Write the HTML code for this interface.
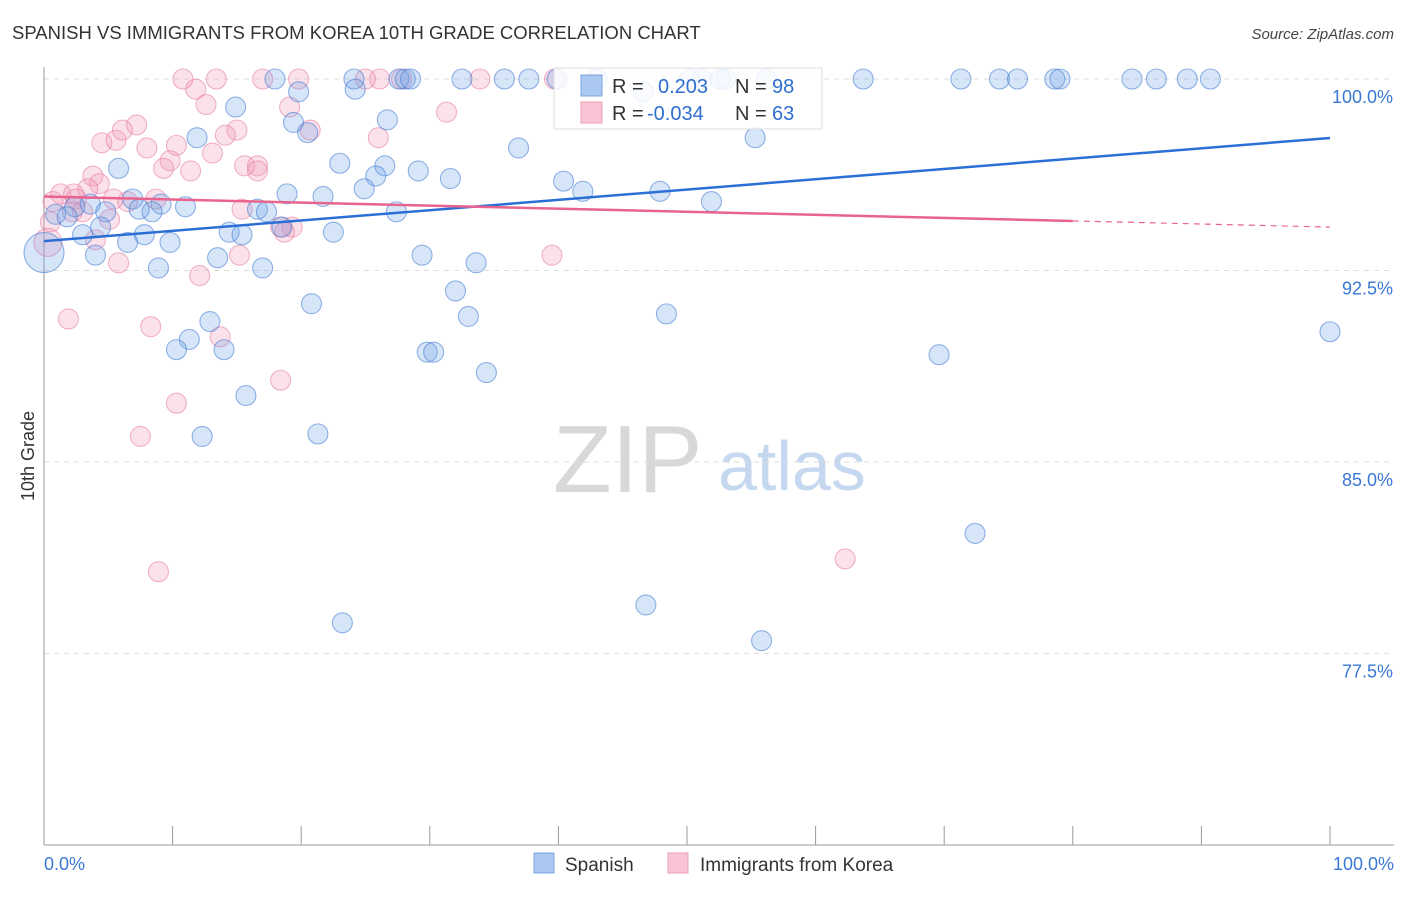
<!DOCTYPE html>
<html><head><meta charset="utf-8">
<style>
body{margin:0;background:#fff;font-family:"Liberation Sans",sans-serif;}
svg text{font-family:"Liberation Sans",sans-serif;}
</style></head>
<body>
<svg id="chart" width="1406" height="892" viewBox="0 0 1406 892" xmlns="http://www.w3.org/2000/svg">
<text x="12" y="39" font-size="18.5" fill="#333">SPANISH VS IMMIGRANTS FROM KOREA 10TH GRADE CORRELATION CHART</text>
<text x="1394" y="39" font-size="15" fill="#444" font-style="italic" text-anchor="end">Source: ZipAtlas.com</text>
<g>
<text x="553" y="492" font-size="96" fill="#d8d8d8" font-family="Liberation Serif, serif">ZIP</text>
<text x="718" y="490" font-size="70" fill="#c5d8f0">atlas</text>
</g>
<g id="grid"></g>
<g id="axes"></g>
<g id="pts"></g>
<g id="trends"></g>
<text transform="translate(34,456) rotate(-90)" font-size="18" fill="#333" text-anchor="middle">10th Grade</text>
<g>
<rect x="554" y="68" width="268" height="61" fill="rgba(255,255,255,0.85)" stroke="#ddd"/>
<rect x="581" y="75" width="21" height="21" fill="#aac8f0" stroke="#7aa6e0"/>
<rect x="581" y="102" width="21" height="21" fill="#f8c4d4" stroke="#eda0b8"/>
<text x="612" y="93" font-size="20" fill="#333">R =</text>
<text x="658" y="93" font-size="20" fill="#2f6fd0">0.203</text>
<text x="735" y="93" font-size="20" fill="#333">N =</text>
<text x="772" y="93" font-size="20" fill="#2f6fd0">98</text>
<text x="612" y="120" font-size="20" fill="#333">R =</text>
<text x="647" y="120" font-size="20" fill="#2f6fd0">-0.034</text>
<text x="735" y="120" font-size="20" fill="#333">N =</text>
<text x="772" y="120" font-size="20" fill="#2f6fd0">63</text>
</g>
<g>
<rect x="534" y="853" width="20" height="20" fill="#aac8f0" stroke="#7aa6e0"/>
<text x="565" y="871" font-size="19" fill="#333">Spanish</text>
</g>
<g>
<rect x="668" y="853" width="20" height="20" fill="#f8c4d4" stroke="#eda0b8"/>
<text x="700" y="871" font-size="19" fill="#333">Immigrants from Korea</text>
</g>
</svg>
<script>
const yTicks=[100,92.5,85,77.5];
const yTickLabels=["100.0%","92.5%","85.0%","77.5%"];
const xTickLabels=["0.0%","100.0%"];
const blueX=[17.96,24.1,27.6,28.1,28.5,32.5,35.8,37.7,39.9,43.0,50.2,51.2,52.6,53.0,56.2,63.7,71.3,74.3,75.7,78.6,79.0,84.6,86.5,88.9,90.7,
14.9,19.8,24.2,46.6,19.4,20.5,11.9,5.8,23.0,26.7,26.5,25.8,24.9,29.1,31.6,36.9,40.4,41.9,47.9,51.9,55.3,6.9,9.1,11.0,8.4,7.4,4.8,3.6,2.4,0.9,1.8,4.4,3.0,7.8,9.8,6.5,14.4,15.4,16.6,17.3,18.9,21.7,27.4,18.5,22.5,4.0,8.9,13.5,17.0,29.4,33.6,32.0,33.0,20.8,12.9,11.3,10.3,14.0,29.8,30.3,34.4,48.4,69.6,100,15.7,12.3,21.3,72.4,46.8,23.2,55.8,0];
const blueY=[100,100,100,100,100,100,100,100,100,100,100,100,100,100,100,100,100,100,100,100,100,100,100,100,100,
98.9,99.5,99.6,99.5,98.3,97.9,97.7,96.5,96.7,98.4,96.6,96.2,95.7,96.4,96.1,97.3,96.0,95.6,95.6,95.2,97.7,95.3,95.1,95.0,94.8,94.9,94.8,95.1,95.0,94.7,94.6,94.2,93.9,93.9,93.6,93.6,94.0,93.9,94.9,94.8,95.5,95.4,94.8,94.2,94.0,93.1,92.6,93.0,92.6,93.1,92.8,91.7,90.7,91.2,90.5,89.8,89.4,89.4,89.3,89.3,88.5,90.8,89.2,90.1,87.6,86.0,86.1,82.2,79.4,78.7,78.0,93.2];
const pinkX=[10.8,13.4,17.0,19.8,25.0,26.1,27.8,33.9,39.7,
11.8,12.6,19.1,31.3,15.0,14.1,10.3,13.1,4.5,5.6,6.1,7.2,8.0,9.8,11.4,9.3,15.6,16.6,16.6,20.7,26.0,3.8,4.3,3.4,1.3,2.3,2.5,0.7,6.5,5.4,8.7,15.4,2.2,3.0,5.1,0.5,4.0,18.4,19.3,18.7,5.8,12.1,39.5,15.2,1.9,8.3,13.7,18.4,10.3,7.5,8.9,62.3,0.3];
const pinkY=[100,100,100,100,100,100,100,100,100,
99.6,99.0,98.9,98.7,98.0,97.8,97.4,97.1,97.5,97.6,98.0,98.2,97.3,96.8,96.4,96.5,96.6,96.6,96.4,98.0,97.7,96.2,95.9,95.7,95.5,95.5,95.3,95.2,95.2,95.3,95.3,94.9,94.8,94.8,94.5,94.4,93.7,94.2,94.2,94.0,92.8,92.3,93.1,93.1,90.6,90.3,89.9,88.2,87.3,86.0,80.7,81.2,93.6];
const blueTrend=[93.65,97.69];
const pinkTrend=[95.4,94.2];
const pinkSolidEnd=80;

const NS="http://www.w3.org/2000/svg";
function xs(v){return 44+v*12.86;}
function ys(v){return 79+(100-v)*25.53;}
function mk(tag,at,parent){const e=document.createElementNS(NS,tag);for(const k in at)e.setAttribute(k,at[k]);parent.appendChild(e);return e;}
const grid=document.getElementById('grid'),axes=document.getElementById('axes'),pts=document.getElementById('pts'),tr=document.getElementById('trends');
yTicks.forEach((t,i)=>{
 const l=mk('line',{x1:44,x2:1394,y1:ys(t),y2:ys(t),stroke:'#ddd','stroke-dasharray':'5,5'},grid);
 
 
 const tx=mk('text',{x:1393,y:ys(t)+24,'font-size':18,fill:'#3a78d4','text-anchor':'end'},axes);
 tx.textContent=yTickLabels[i];
 
 
});
const ya=mk('line',{x1:44,x2:44,y1:67,y2:845,stroke:'#999'},axes);


const xa=mk('line',{x1:44,x2:1394,y1:845,y2:845,stroke:'#999'},axes);


for(let i=1;i<=10;i++){
 const t=mk('line',{x1:xs(i*10),x2:xs(i*10),y1:826,y2:845,stroke:'#999'},axes);
 
 
}
[[0,'start',44],[100,'end',1394]].forEach((d,i)=>{
 const t=mk('text',{x:d[2],y:870,'font-size':18,fill:'#3a78d4','text-anchor':d[1]},axes);
 t.textContent=xTickLabels[i];
 
 
});
function dots(X,Y,fill,stroke,name,bigR){
 X.forEach((x,i)=>{
  const r=(i===X.length-1)?bigR:10;
  const c=mk('circle',{cx:xs(x),cy:ys(Y[i]),r:r,fill:fill,stroke:stroke,'stroke-width':1.1},pts);
  
  
 });
}
dots(pinkX,pinkY,'rgba(240,150,180,0.28)','rgba(230,120,160,0.55)','korea-point',14);
dots(blueX,blueY,'rgba(110,160,230,0.28)','rgba(60,120,210,0.55)','spanish-point',20);
const bl=mk('line',{x1:xs(0),y1:ys(blueTrend[0]),x2:xs(100),y2:ys(blueTrend[1]),stroke:'#2a6fd6','stroke-width':2.5},tr);


const pAt=v=>pinkTrend[0]+(pinkTrend[1]-pinkTrend[0])*v/100;
const pl=mk('line',{x1:xs(0),y1:ys(pAt(0)),x2:xs(pinkSolidEnd),y2:ys(pAt(pinkSolidEnd)),stroke:'#e8648e','stroke-width':2.5},tr);


const pd=mk('line',{x1:xs(pinkSolidEnd),y1:ys(pAt(pinkSolidEnd)),x2:xs(100),y2:ys(pAt(100)),stroke:'#e8648e','stroke-width':1.2,'stroke-dasharray':'6,5'},tr);


</script>
</body></html>
